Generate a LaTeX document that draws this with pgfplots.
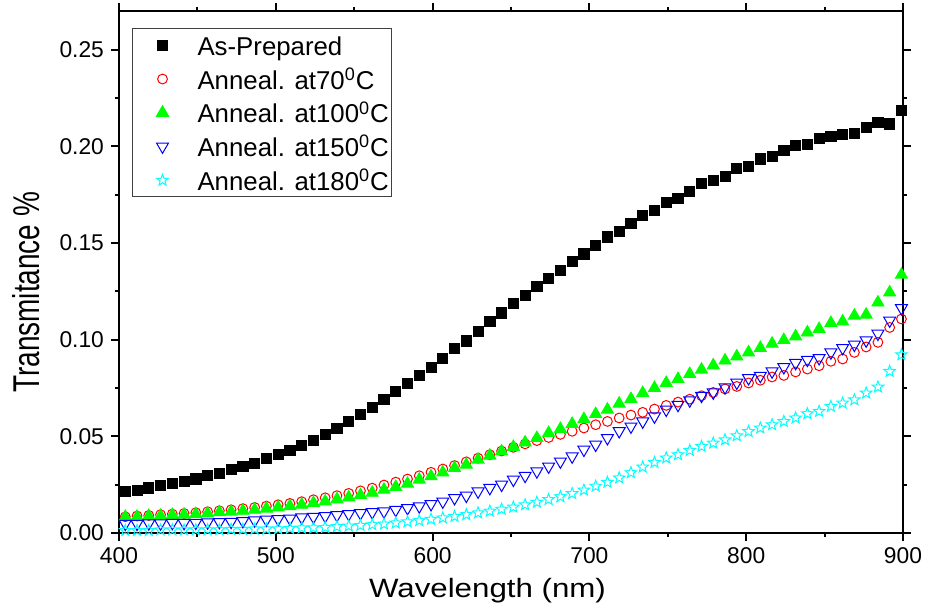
\documentclass[border=0pt]{standalone}
\usepackage{pgfplots}
\pgfplotsset{compat=1.18}
\usepackage{pgfplotstable}
\usepackage{graphicx}
\usepackage{fontspec}
\setmainfont{Liberation Sans}

\definecolor{mgreen}{RGB}{0,255,0}
\definecolor{mcyan}{RGB}{0,255,255}
\definecolor{mblue}{RGB}{0,0,255}
\definecolor{mred}{RGB}{255,0,0}

% open five-pointed star
\pgfdeclareplotmark{ostar}{%
  \pgfpathmoveto{\pgfpointpolar{90}{\pgfplotmarksize}}%
  \pgfpathlineto{\pgfpointpolar{126}{0.42*\pgfplotmarksize}}%
  \pgfpathlineto{\pgfpointpolar{162}{\pgfplotmarksize}}%
  \pgfpathlineto{\pgfpointpolar{198}{0.42*\pgfplotmarksize}}%
  \pgfpathlineto{\pgfpointpolar{234}{\pgfplotmarksize}}%
  \pgfpathlineto{\pgfpointpolar{270}{0.42*\pgfplotmarksize}}%
  \pgfpathlineto{\pgfpointpolar{306}{\pgfplotmarksize}}%
  \pgfpathlineto{\pgfpointpolar{342}{0.42*\pgfplotmarksize}}%
  \pgfpathlineto{\pgfpointpolar{18}{\pgfplotmarksize}}%
  \pgfpathlineto{\pgfpointpolar{54}{0.42*\pgfplotmarksize}}%
  \pgfpathclose
  \pgfusepathqstroke
}

% wavelength (nm) and transmittance of the five films
\pgfplotstableread{
x     ap     a70    a100   a150   a180
404   0.0215 0.0084 0.0083 0.0048 0.0013
411.5 0.0220 0.0088 0.0084 0.0048 0.0013
419   0.0233 0.0091 0.0088 0.0050 0.0013
426.5 0.0245 0.0095 0.0089 0.0050 0.0016
434   0.0255 0.0098 0.0093 0.0052 0.0016
441.5 0.0267 0.0101 0.0095 0.0052 0.0016
449   0.0280 0.0105 0.0098 0.0053 0.0017
456.5 0.0296 0.0110 0.0101 0.0055 0.0017
464   0.0310 0.0115 0.0107 0.0057 0.0017
471.5 0.0327 0.0120 0.0110 0.0058 0.0019
479   0.0344 0.0126 0.0115 0.0062 0.0019
486.5 0.0362 0.0132 0.0120 0.0065 0.0021
494   0.0384 0.0139 0.0126 0.0069 0.0021
501.5 0.0405 0.0146 0.0132 0.0072 0.0022
509   0.0427 0.0153 0.0139 0.0075 0.0024
516.5 0.0451 0.0162 0.0146 0.0081 0.0026
524   0.0479 0.0172 0.0155 0.0084 0.0027
531.5 0.0508 0.0182 0.0163 0.0088 0.0029
539   0.0539 0.0193 0.0174 0.0093 0.0033
546.5 0.0577 0.0205 0.0184 0.0098 0.0036
554   0.0615 0.0218 0.0196 0.0103 0.0039
561.5 0.0650 0.0232 0.0208 0.0108 0.0043
569   0.0689 0.0248 0.0224 0.0112 0.0046
576.5 0.0732 0.0263 0.0238 0.0120 0.0052
584   0.0772 0.0279 0.0255 0.0129 0.0058
591.5 0.0815 0.0296 0.0276 0.0138 0.0064
599   0.0858 0.0314 0.0293 0.0150 0.0071
606.5 0.0905 0.0331 0.0313 0.0163 0.0078
614   0.0953 0.0349 0.0336 0.0181 0.0086
621.5 0.0994 0.0368 0.0353 0.0193 0.0095
629   0.1042 0.0387 0.0379 0.0215 0.0104
636.5 0.1094 0.0405 0.0400 0.0233 0.0113
644   0.1138 0.0424 0.0422 0.0250 0.0123
651.5 0.1186 0.0443 0.0445 0.0276 0.0134
659   0.1229 0.0461 0.0468 0.0296 0.0146
666.5 0.1275 0.0478 0.0491 0.0319 0.0159
674   0.1315 0.0494 0.0517 0.0344 0.0173
681.5 0.1358 0.0510 0.0538 0.0370 0.0188
689   0.1404 0.0526 0.0564 0.0396 0.0204
696.5 0.1444 0.0543 0.0589 0.0431 0.0222
704   0.1487 0.0560 0.0615 0.0457 0.0242
711.5 0.1531 0.0577 0.0638 0.0491 0.0262
719   0.1560 0.0595 0.0669 0.0527 0.0285
726.5 0.1603 0.0610 0.0693 0.0551 0.0312
734   0.1641 0.0624 0.0724 0.0577 0.0341
741.5 0.1667 0.0641 0.0750 0.0603 0.0365
749   0.1710 0.0660 0.0776 0.0638 0.0388
756.5 0.1732 0.0677 0.0796 0.0663 0.0405
764   0.1766 0.0692 0.0822 0.0686 0.0427
771.5 0.1810 0.0710 0.0845 0.0710 0.0448
779   0.1823 0.0727 0.0867 0.0727 0.0465
786.5 0.1844 0.0745 0.0892 0.0754 0.0482
794   0.1887 0.0758 0.0913 0.0778 0.0503
801.5 0.1896 0.0776 0.0934 0.0801 0.0525
809   0.1935 0.0790 0.0957 0.0813 0.0543
816.5 0.1947 0.0807 0.0979 0.0836 0.0560
824   0.1978 0.0815 0.0998 0.0858 0.0577
831.5 0.2004 0.0833 0.1017 0.0880 0.0595
839   0.2011 0.0848 0.1037 0.0896 0.0617
846.5 0.2042 0.0865 0.1055 0.0905 0.0629
854   0.2051 0.0888 0.1086 0.0934 0.0655
861.5 0.2063 0.0900 0.1094 0.0957 0.0672
869   0.2068 0.0934 0.1124 0.0974 0.0689
876.5 0.2097 0.0962 0.1129 0.0996 0.0724
884   0.2125 0.0986 0.1192 0.1031 0.0755
891.5 0.2116 0.1063 0.1244 0.1099 0.0836
899   0.2184 0.1107 0.1336 0.1163 0.0922
}\spectra

\begin{document}
\begin{tikzpicture}
\begin{axis}[
  scale only axis,
  width=392pt, height=261pt,
  xmin=400, xmax=900, ymin=0, ymax=0.27,
  xtick={400,500,...,900},
  ytick={0,0.05,0.10,0.15,0.20,0.25},
  minor x tick num=1, minor y tick num=1,
  xticklabel pos=lower, yticklabel pos=left,
  xtick pos=both, ytick pos=both,
  tick align=outside,
  major tick length=4pt, minor tick length=2pt,
  every tick/.append style={black, line width=1pt},
  axis line style={line width=1.25pt},
  scaled y ticks=false,
  /pgf/number format/assume math mode=true,
  yticklabel style={/pgf/number format/.cd, fixed, fixed zerofill, precision=2},
  ticklabel style={font=\fontsize{11.4}{13}\selectfont},
  xlabel={\scalebox{1.18}[1]{Wavelength (nm)}},
  ylabel={\scalebox{0.75}[1]{Transmitance \%}},
  xlabel style={at={(axis description cs:0.47,-0.1245)}, anchor=base,
    font=\fontsize{13.25}{15}\selectfont},
  ylabel style={at={(axis description cs:-0.1008,0.461)}, anchor=base,
    font=\fontsize{18.65}{20}\selectfont},
  legend cell align=left,
  legend image code/.code={%
    \path[draw=none, fill=none] (0pt,0pt) -- (20pt,0pt);
    \draw[#1] plot coordinates {(13.5pt,0pt)};},
  legend style={at={(axis description cs:0.0166,0.9669)}, anchor=north west,
    draw=black!75, line width=0.5pt, fill=white,
    font=\fontsize{12.9}{15}\selectfont,
    inner xsep=1.5pt, inner ysep=2pt,
    row sep=4.375pt, column sep=11pt,
    nodes={inner sep=0pt, text height=11.25pt, text depth=1.25pt}},
]
\addplot[only marks, mark=square*, mark size=2.55pt, black] table[x=x, y=ap] {\spectra};
\addlegendentry{As-Prepared}
\addplot[only marks, mark=o, mark size=2.45pt, mred, line width=0.5pt] table[x=x, y=a70] {\spectra};
\addlegendentry{Anneal. at70\textsuperscript{0}C}
\addplot[only marks, mark=triangle*, mark size=3.5pt, mgreen] table[x=x, y=a100] {\spectra};
\addlegendentry{Anneal. at100\textsuperscript{0}C}
\addplot[only marks, mark=triangle, mark size=3.45pt, mblue, line width=0.5pt, mark options={rotate=180}] table[x=x, y=a150] {\spectra};
\addlegendentry{Anneal. at150\textsuperscript{0}C}
\addplot[only marks, mark=ostar, mark size=3pt, mcyan, line width=0.5pt] table[x=x, y=a180] {\spectra};
\addlegendentry{Anneal. at180\textsuperscript{0}C}
\end{axis}
\pgfresetboundingbox
\path[use as bounding box] ([xshift=-59.5pt,yshift=-37pt]current axis.south west)
  rectangle ([xshift=11pt,yshift=5.5pt]current axis.north east);
\end{tikzpicture}
\end{document}
